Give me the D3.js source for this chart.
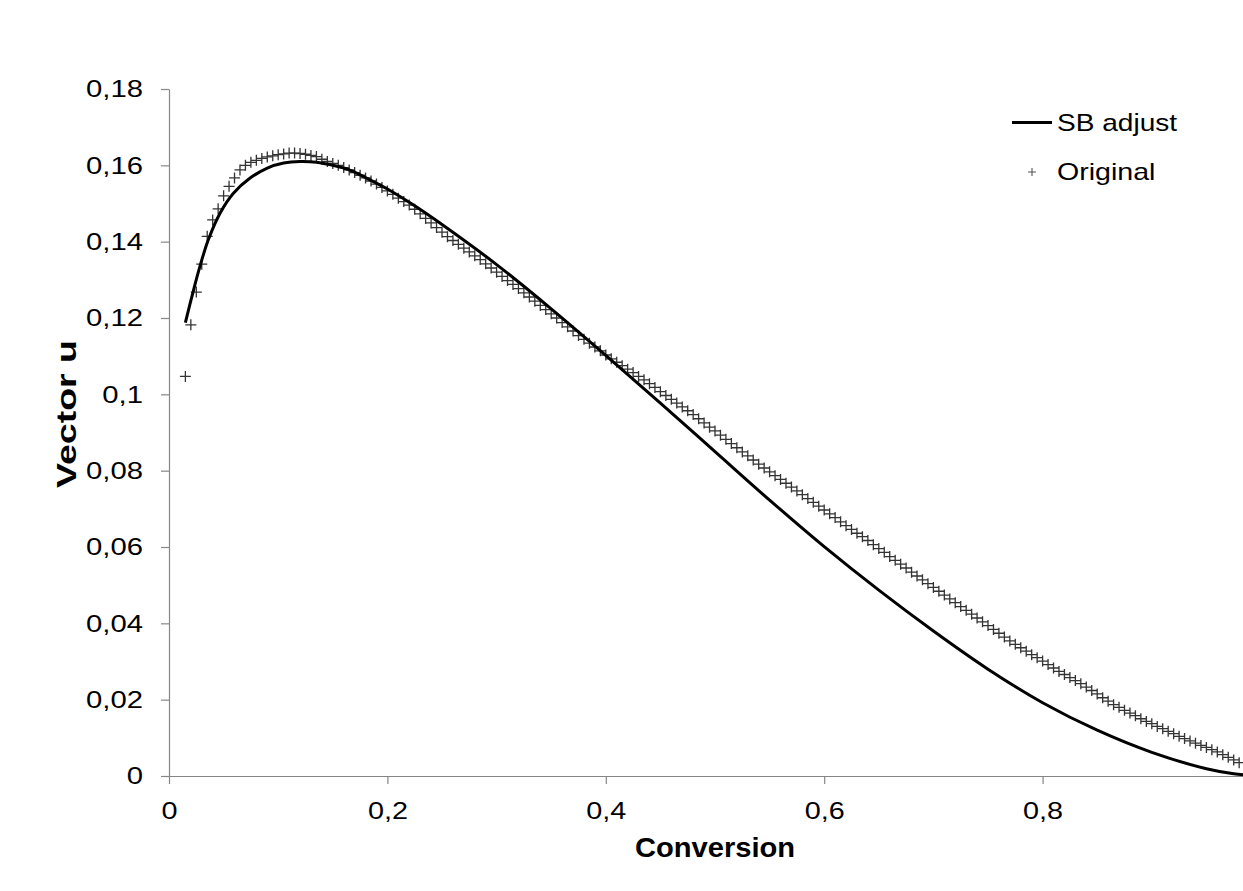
<!DOCTYPE html>
<html>
<head>
<meta charset="utf-8">
<script src="https://cdn.jsdelivr.net/npm/d3@7"></script>
<style>
  html, body { margin: 0; padding: 0; background: #fff; overflow: hidden; }
  svg { display: block; font-family: "Liberation Sans", Arial, sans-serif; }
</style>
</head>
<body>
<svg id="chart" width="1243" height="891"></svg>
<script>
// ---- Data ----
const X_TICKS = [0, 0.2, 0.4, 0.6, 0.8];
const Y_TICKS = [0, 0.02, 0.04, 0.06, 0.08, 0.1, 0.12, 0.14, 0.16, 0.18];

const originalConversion = [
  0.015,0.020,0.025,0.030,0.035,0.040,0.045,0.050,0.055,0.060,
  0.065,0.070,0.075,0.080,0.085,0.090,0.095,0.100,0.105,0.110,
  0.115,0.120,0.125,0.130,0.135,0.140,0.145,0.150,0.155,0.160,
  0.165,0.170,0.175,0.180,0.185,0.190,0.195,0.200,0.205,0.210,
  0.215,0.220,0.225,0.230,0.235,0.240,0.245,0.250,0.255,0.260,
  0.265,0.270,0.275,0.280,0.285,0.290,0.295,0.300,0.305,0.310,
  0.315,0.320,0.325,0.330,0.335,0.340,0.345,0.350,0.355,0.360,
  0.365,0.370,0.375,0.380,0.385,0.390,0.395,0.400,0.405,0.410,
  0.415,0.420,0.425,0.430,0.435,0.440,0.445,0.450,0.455,0.460,
  0.465,0.470,0.475,0.480,0.485,0.490,0.495,0.500,0.505,0.510,
  0.515,0.520,0.525,0.530,0.535,0.540,0.545,0.550,0.555,0.560,
  0.565,0.570,0.575,0.580,0.585,0.590,0.595,0.600,0.605,0.610,
  0.615,0.620,0.625,0.630,0.635,0.640,0.645,0.650,0.655,0.660,
  0.665,0.670,0.675,0.680,0.685,0.690,0.695,0.700,0.705,0.710,
  0.715,0.720,0.725,0.730,0.735,0.740,0.745,0.750,0.755,0.760,
  0.765,0.770,0.775,0.780,0.785,0.790,0.795,0.800,0.805,0.810,
  0.815,0.820,0.825,0.830,0.835,0.840,0.845,0.850,0.855,0.860,
  0.865,0.870,0.875,0.880,0.885,0.890,0.895,0.900,0.905,0.910,
  0.915,0.920,0.925,0.930,0.935,0.940,0.945,0.950,0.955,0.960,
  0.965,0.970,0.975,0.980
];
const originalU = [
  0.1047,0.1182,0.1268,0.1341,0.1414,0.1457,0.1486,0.1520,0.1545,0.1567,
  0.1588,0.1600,0.1608,0.1613,0.1618,0.1622,0.1625,0.1628,0.1630,0.1632,
  0.1632,0.1631,0.1629,0.1626,0.1623,0.1616,0.1610,0.1605,0.1600,0.1594,
  0.1588,0.1581,0.1574,0.1567,0.1559,0.1551,0.1542,0.1533,0.1524,0.1514,
  0.1505,0.1496,0.1485,0.1473,0.1461,0.1449,0.1437,0.1425,0.1413,0.1403,
  0.1393,0.1383,0.1373,0.1363,0.1353,0.1342,0.1331,0.1320,0.1309,0.1298,
  0.1288,0.1277,0.1266,0.1255,0.1244,0.1233,0.1222,0.1211,0.1200,0.1188,
  0.1177,0.1166,0.1154,0.1144,0.1134,0.1124,0.1114,0.1103,0.1093,0.1084,
  0.1075,0.1066,0.1057,0.1047,0.1038,0.1028,0.1018,0.1007,0.0997,0.0987,
  0.0977,0.0967,0.0957,0.0947,0.0936,0.0925,0.0914,0.0904,0.0893,0.0882,
  0.0871,0.0860,0.0849,0.0839,0.0828,0.0817,0.0807,0.0797,0.0787,0.0777,
  0.0767,0.0757,0.0747,0.0737,0.0727,0.0717,0.0707,0.0697,0.0687,0.0677,
  0.0666,0.0656,0.0646,0.0636,0.0627,0.0617,0.0606,0.0596,0.0586,0.0575,
  0.0565,0.0555,0.0545,0.0534,0.0524,0.0514,0.0504,0.0494,0.0484,0.0474,
  0.0464,0.0454,0.0444,0.0434,0.0424,0.0414,0.0404,0.0394,0.0384,0.0374,
  0.0364,0.0354,0.0345,0.0336,0.0327,0.0318,0.0310,0.0301,0.0292,0.0283,
  0.0274,0.0266,0.0258,0.0250,0.0242,0.0233,0.0224,0.0215,0.0205,0.0196,
  0.0187,0.0180,0.0172,0.0165,0.0158,0.0150,0.0143,0.0137,0.0130,0.0124,
  0.0117,0.0111,0.0104,0.0098,0.0092,0.0086,0.0080,0.0075,0.0069,0.0063,
  0.0056,0.0049,0.0042,0.0035
];

const sbConversion = [
  0.015,0.022,0.028,0.036,0.047,0.059,0.074,0.090,0.105,0.120,
  0.135,0.150,0.165,0.180,0.200,0.225,0.250,0.300,0.350,0.400,
  0.450,0.500,0.550,0.600,0.650,0.700,0.750,0.800,0.850,0.900,
  0.950,0.975,1.000
];
const sbU = [
  0.1188,0.1268,0.1332,0.1405,0.1476,0.1527,0.1566,0.1593,0.1606,0.1610,
  0.1608,0.1600,0.1588,0.1568,0.1538,0.1494,0.1445,0.1340,0.1224,0.1102,
  0.0977,0.0850,0.0723,0.0601,0.0487,0.0380,0.0280,0.0192,0.0120,0.0062,
  0.0019,0.0006,0.0000
];

const SERIES_NAMES = ["SB adjust", "Original"];
const X_TITLE = "Conversion";
const Y_TITLE = "Vector u";

// ---- Layout ----
const svg = d3.select("#chart");
const plotLeft = 169, plotRight = 1261, plotTop = 89, plotBottom = 776;
const axisColor = "#868686";
const FONT = "'Liberation Sans', Arial, sans-serif";

const x = d3.scaleLinear().domain([0, 1]).range([plotLeft, plotRight]);
const y = d3.scaleLinear().domain([0, 0.18]).range([plotBottom, plotTop]);
const fmt = d => String(+d.toFixed(2)).replace(".", ",");

// Y axis
const gy = svg.append("g").attr("transform", `translate(${plotLeft},0)`)
  .call(d3.axisLeft(y).tickValues(Y_TICKS).tickFormat(fmt).tickSizeOuter(0).tickSizeInner(8).tickPadding(18));
gy.select(".domain").attr("stroke", axisColor).attr("stroke-width", 1.2);
gy.selectAll(".tick line").attr("stroke", axisColor).attr("stroke-width", 1.2);
gy.selectAll(".tick text").attr("fill", "#000").attr("font-size", 24).attr("font-family", FONT)
  .attr("x", 0).attr("transform", "translate(-26,0) scale(1.22,1)");

// X axis
const gx = svg.append("g").attr("transform", `translate(0,${plotBottom})`)
  .call(d3.axisBottom(x).tickValues(X_TICKS).tickFormat(fmt).tickSizeOuter(0).tickSizeInner(8).tickPadding(18));
gx.select(".domain").attr("stroke", axisColor).attr("stroke-width", 1.2);
gx.selectAll(".tick line").attr("stroke", axisColor).attr("stroke-width", 1.2);
gx.selectAll(".tick text").attr("fill", "#000").attr("font-size", 24).attr("font-family", FONT)
  .attr("transform", "scale(1.2,1)");

// Axis titles
svg.append("text")
  .attr("transform", `translate(${(plotLeft + plotRight) / 2},857) scale(1.04,1)`)
  .attr("text-anchor", "middle").attr("font-size", 28).attr("font-weight", "bold")
  .attr("fill", "#000").text(X_TITLE);
svg.append("text")
  .attr("transform", `translate(76,414) rotate(-90) scale(1.34,1)`)
  .attr("text-anchor", "middle").attr("font-size", 28).attr("font-weight", "bold")
  .attr("fill", "#000").text(Y_TITLE);

// Original markers (+)
const plus = (s) => `M${-s},0H${s}M0,${-s}V${s}`;
const origData = originalConversion.map((c, i) => ({ c, u: originalU[i] }));
svg.append("g").selectAll("path").data(origData).join("path")
  .attr("transform", d => `translate(${x(d.c)},${y(d.u)})`)
  .attr("d", plus(5.5))
  .attr("stroke", "#333").attr("stroke-width", 1.3).attr("fill", "none");

// SB adjust line
const sbData = sbConversion.map((c, i) => ({ c, u: sbU[i] }));
svg.append("path").datum(sbData)
  .attr("d", d3.line().x(d => x(d.c)).y(d => y(d.u)).curve(d3.curveCatmullRom.alpha(0.5)))
  .attr("fill", "none").attr("stroke", "#000").attr("stroke-width", 3);

// Legend
const lg = svg.append("g");
lg.append("line").attr("x1", 1012).attr("x2", 1052).attr("y1", 122.5).attr("y2", 122.5)
  .attr("stroke", "#000").attr("stroke-width", 3);
lg.append("text").attr("transform", "translate(1057,131) scale(1.17,1)")
  .attr("font-size", 24).attr("fill", "#000").text(SERIES_NAMES[0]);
lg.append("path").attr("transform", "translate(1032,172)").attr("d", plus(4))
  .attr("stroke", "#555").attr("stroke-width", 1.1).attr("fill", "none");
lg.append("text").attr("transform", "translate(1057,180) scale(1.19,1)")
  .attr("font-size", 24).attr("fill", "#000").text(SERIES_NAMES[1]);
</script>
</body>
</html>
